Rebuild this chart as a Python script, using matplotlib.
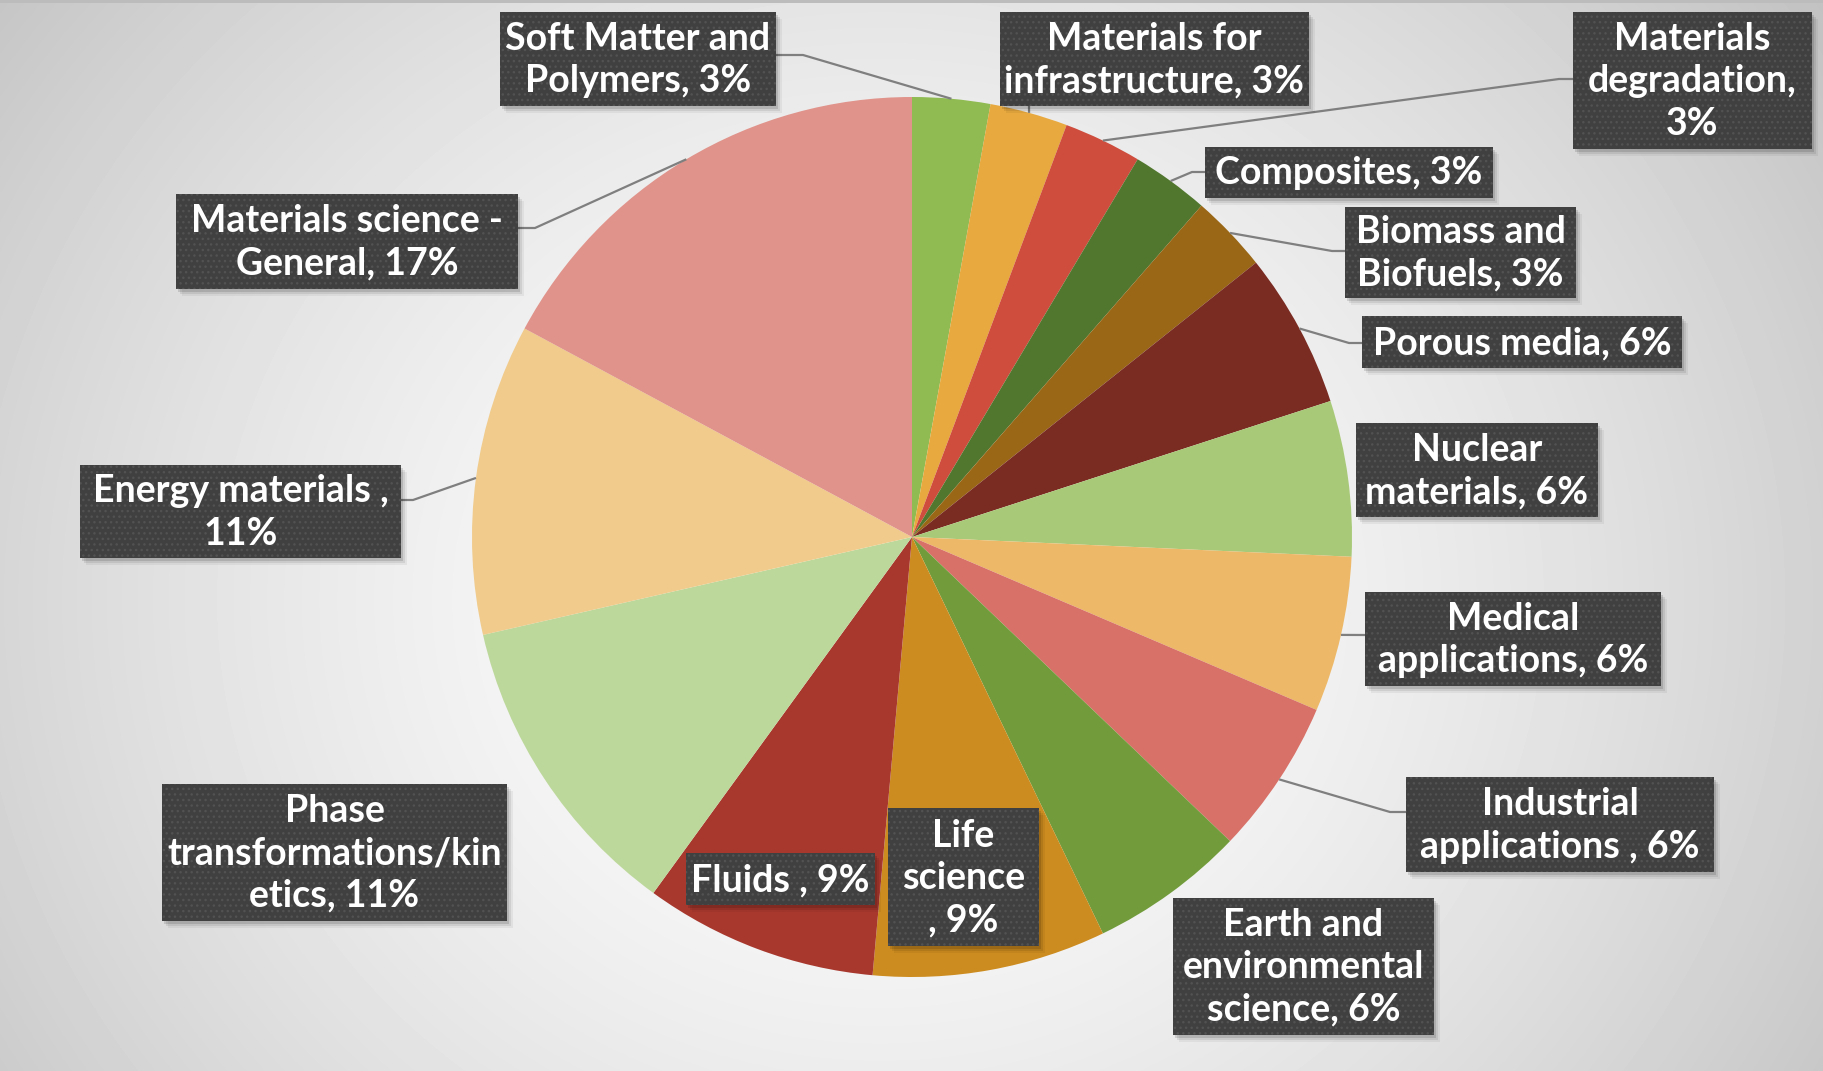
import numpy as np
import matplotlib
matplotlib.use("Agg")
import matplotlib.pyplot as plt
from matplotlib.patches import Rectangle

# ---- data -------------------------------------------------------------
categories = [
    "Soft Matter and Polymers", "Materials for infrastructure",
    "Materials degradation", "Composites", "Biomass and Biofuels",
    "Porous media", "Nuclear materials", "Medical applications",
    "Industrial applications ", "Earth and environmental science",
    "Life science ", "Fluids ", "Phase transformations/kinetics",
    "Energy materials ", "Materials science - General",
]
counts = [1, 1, 1, 1, 1, 2, 2, 2, 2, 2, 3, 3, 4, 4, 6]
colors = [
    "#8FBB52", "#E8A93E", "#CF4D3D", "#51772E", "#9A6716",
    "#7A2B22", "#A8CA78", "#EDB968", "#D87167", "#729C3C",
    "#CD8C1F", "#A8382E", "#BDD89B", "#F0CB8B", "#E0938A",
]
# wrapped label text ({p} is the rounded percentage)
label_templates = [
    "Soft Matter and\nPolymers, {p}%", "Materials for\ninfrastructure, {p}%",
    "Materials\ndegradation,\n{p}%", "Composites, {p}%",
    "Biomass and\nBiofuels, {p}%", "Porous media, {p}%",
    "Nuclear\nmaterials, {p}%", "Medical\napplications, {p}%",
    "Industrial\napplications , {p}%", "Earth and\nenvironmental\nscience, {p}%",
    "Life\nscience\n, {p}%", "Fluids , {p}%",
    "Phase\ntransformations/kin\netics, {p}%", "Energy materials ,\n{p}%",
    "Materials science -\nGeneral, {p}%",
]

# ---- layout (pixel coordinates, origin top-left) ----------------------
W, H = 1824, 1071
CX, CY, R = 912, 537, 440
# label boxes: x0, x1, y0, y1
boxes = [
    (500, 776, 12, 106), (1000, 1309, 12, 106), (1573, 1812, 12, 149),
    (1205, 1493, 147, 198), (1345, 1576, 207, 298), (1362, 1682, 316, 368),
    (1356, 1598, 423, 517), (1365, 1661, 592, 686), (1406, 1714, 777, 872),
    (1173, 1434, 898, 1035), (888, 1039, 808, 946), (686, 875, 853, 905),
    (162, 507, 784, 921), (80, 401, 465, 558), (176, 518, 194, 289),
]
# leader lines: (elbow point, box attach point) or None
leaders = [
    ((803, 55), (776, 55)), ((None), (1029, 106)), ((1559, 79), (1573, 79)),
    ((1192, 172), (1205, 172)), ((1332, 251), (1345, 251)),
    ((1349, 343), (1362, 343)), None, ((None), (1365, 635)),
    ((1390, 812), (1406, 812)), None, None, None, None,
    ((413, 500), (401, 500)), ((535, 228), (518, 228)),
]


def fy(y):
    return H - y


fig = plt.figure(figsize=(W / 100, H / 100), dpi=100)
ax = fig.add_axes([0, 0, 1, 1])
ax.set_xlim(0, W)
ax.set_ylim(0, H)
ax.axis("off")

# radial gradient background
yy, xx = np.mgrid[0:H, 0:W]
rr = np.hypot(xx - 880, (yy - 470) * 1.1) / 1050.0
bg = 1.0 - 0.21 * np.clip(rr, 0, 1.2) ** 1.5
ax.imshow(bg, cmap="gray", vmin=0, vmax=1, extent=[0, W, H, 0],
          origin="upper", zorder=0, interpolation="bilinear")
ax.add_patch(Rectangle((0, fy(3)), W, 3, color="#bcbcbc", zorder=1, lw=0))

total = sum(counts)
pcts = [round(100 * c / total) for c in counts]

wedges, _ = ax.pie(counts, colors=colors, startangle=90, counterclock=False,
                   center=(CX, fy(CY)), radius=R,
                   wedgeprops=dict(linewidth=0, zorder=2))
ax.set_xlim(0, W)
ax.set_ylim(0, H)
ax.set_aspect("equal")

# leader lines from the rim of each wedge
for w, ld in zip(wedges, leaders):
    if ld is None:
        continue
    mid = np.deg2rad((w.theta1 + w.theta2) / 2)
    sx = CX + R * np.cos(mid)
    sy = fy(CY) + R * np.sin(mid)
    elbow, end = ld
    pts = [(sx, sy)]
    if elbow is not None:
        pts.append((elbow[0], fy(elbow[1])))
    pts.append((end[0], fy(end[1])))
    px, py = zip(*pts)
    ax.plot(px, py, color="#7f7f7f", lw=1.6, zorder=3,
            solid_capstyle="butt")

# label boxes with soft shadow and dotted texture
for tmpl, p, (x0, x1, y0, y1) in zip(label_templates, pcts, boxes):
    bw, bh = x1 - x0, y1 - y0
    for k, a in [(7, 0.05), (5, 0.08), (3, 0.12)]:
        ax.add_patch(Rectangle((x0 + k - 1, fy(y1) - k), bw, bh,
                               facecolor="black", alpha=a, lw=0, zorder=4))
    ax.add_patch(Rectangle((x0, fy(y1)), bw, bh, facecolor="#404040",
                           edgecolor="#525252", hatch="...", lw=0, zorder=5))
    ax.text((x0 + x1) / 2, fy((y0 + y1) / 2) - 1, tmpl.format(p=p),
            ha="center", va="center", multialignment="center",
            color="white", fontsize=27, fontweight="bold",
            family=["Lato", "DejaVu Sans"], linespacing=1.3, zorder=6)

fig.savefig("out.png", dpi=100)
